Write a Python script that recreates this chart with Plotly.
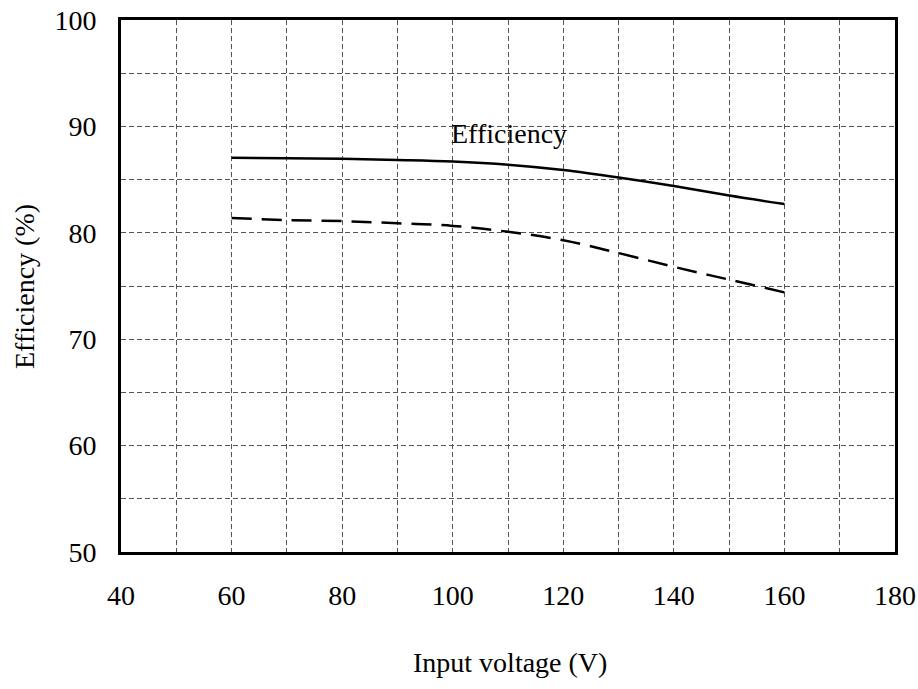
import plotly.graph_objects as go

voltage = [60, 70, 80, 90, 100, 110, 120, 130, 140, 150, 160]
eff_solid = [87.05, 87.0, 86.96, 86.85, 86.7, 86.4, 85.9, 85.2, 84.4, 83.5, 82.7]
eff_dashed = [81.4, 81.2, 81.1, 80.9, 80.65, 80.1, 79.3, 78.1, 76.8, 75.6, 74.4]

x_ticks = list(range(40, 181, 10))
x_labels = [str(v) if v % 20 == 0 else "" for v in x_ticks]
y_ticks = list(range(50, 101, 5))
y_labels = [str(v) if v % 10 == 0 else "" for v in y_ticks]

x_title = "Input voltage (V)"
y_title = "Efficiency (%)"
curve_label = "Efficiency"

FONT = "Times New Roman"
W, H = 918, 689
ML, MR, MT, MB = 121, 23, 20, 137

fig = go.Figure()
fig.add_trace(go.Scatter(x=voltage, y=eff_solid, mode="lines",
                         line=dict(color="black", width=2.5, shape="spline"),
                         showlegend=False))
fig.add_trace(go.Scatter(x=voltage, y=eff_dashed, mode="lines",
                         line=dict(color="black", width=2.5, dash="20px,10px", shape="spline"),
                         showlegend=False))

fig.add_annotation(x=110.2, y=89.3, text=curve_label, showarrow=False,
                   font=dict(family=FONT, size=28, color="black"))

pw = W - ML - MR
ph = H - MT - MB
fig.add_annotation(xref="paper", yref="paper",
                   x=(510 - ML) / pw, y=-(662 - (H - MB)) / ph,
                   text=x_title, showarrow=False, xanchor="center", yanchor="middle",
                   font=dict(family=FONT, size=28, color="black"))
fig.add_annotation(xref="paper", yref="paper",
                   x=-(ML - 24) / pw, y=0.5, textangle=-90,
                   text=y_title, showarrow=False, xanchor="center", yanchor="middle",
                   font=dict(family=FONT, size=28, color="black"))

axis_common = dict(
    showline=True, linecolor="black", linewidth=3, mirror=True,
    showgrid=True, gridcolor="#555555", gridwidth=1, griddash="5px,3px",
    zeroline=False, ticks="", automargin=False,
    tickfont=dict(family=FONT, size=28, color="black"),
)

fig.update_xaxes(range=[40, 180], tickmode="array", tickvals=x_ticks, ticktext=x_labels,
                 ticklabelstandoff=16, **axis_common)
fig.update_yaxes(range=[50, 100], tickmode="array", tickvals=y_ticks, ticktext=y_labels,
                 ticklabelstandoff=16, **axis_common)

fig.update_layout(
    width=W, height=H,
    margin=dict(l=ML, r=MR, t=MT, b=MB, autoexpand=False),
    paper_bgcolor="white", plot_bgcolor="white",
    font=dict(family=FONT, color="black"),
)

fig.write_html("out.html", config={"displayModeBar": False},
               post_script="document.body.style.margin='0';")
